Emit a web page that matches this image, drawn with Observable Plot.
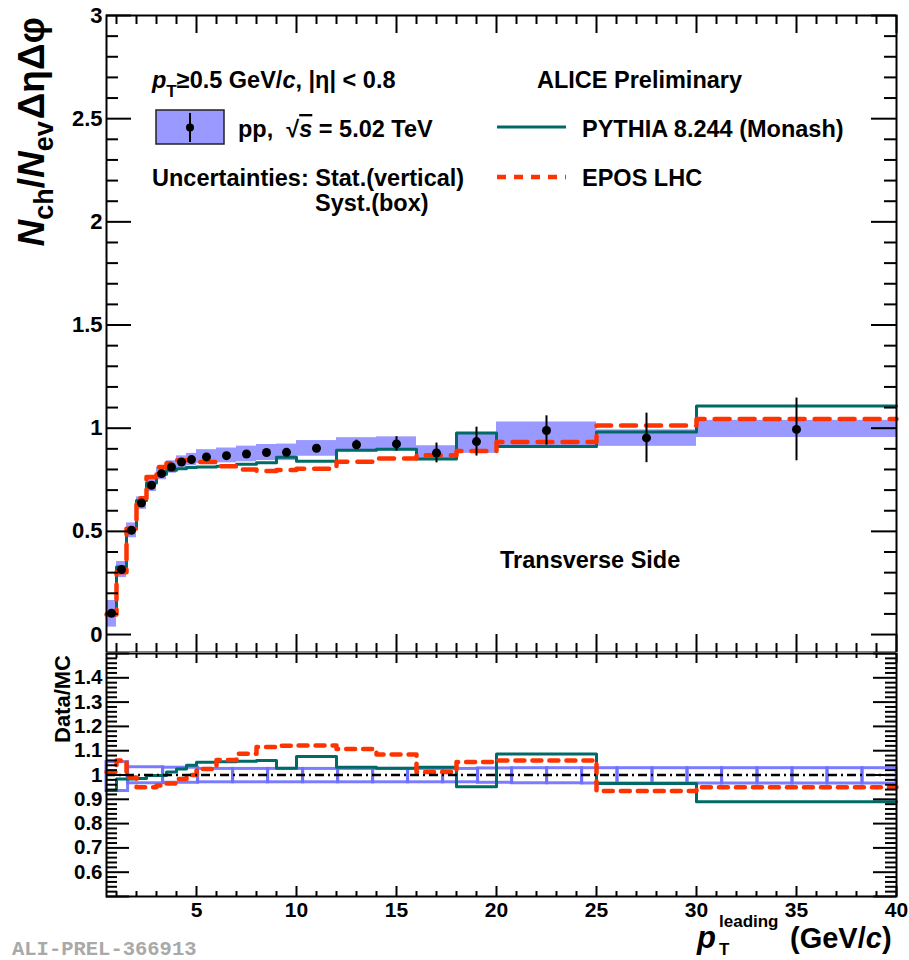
<!DOCTYPE html>
<html><head><meta charset="utf-8">
<script src="https://cdn.jsdelivr.net/npm/d3@7"></script>
<script src="https://cdn.jsdelivr.net/npm/@observablehq/plot@0.6"></script>
<style>
html,body{margin:0;padding:0;background:#fff;overflow:hidden;}
#wrap{position:relative;width:909px;height:960px;overflow:hidden;background:#fff;}
#wrap svg{position:absolute;left:0;}
</style></head><body><div id="wrap"></div>
<script>
// ---------------- data ----------------
const binLo = [0.5,1,1.5,2,2.5,3,3.5,4,4.5,5,6,7,8,9,10,12,14,16,18,20,25,30];
const binHi = [1,1.5,2,2.5,3,3.5,4,4.5,5,6,7,8,9,10,12,14,16,18,20,25,30,40];
const dataY   = [0.103,0.315,0.505,0.637,0.723,0.780,0.812,0.836,0.848,0.861,0.867,0.875,0.882,0.883,0.903,0.920,0.924,0.880,0.935,0.989,0.953,0.994];
const statErr = [0.004,0.004,0.004,0.004,0.004,0.004,0.004,0.004,0.004,0.005,0.005,0.006,0.007,0.008,0.012,0.022,0.035,0.048,0.070,0.071,0.120,0.152];
const systLo  = [0.036,0.276,0.469,0.607,0.693,0.750,0.782,0.806,0.818,0.828,0.832,0.837,0.843,0.843,0.864,0.886,0.890,0.845,0.878,0.910,0.912,0.955];
const systHi  = [0.165,0.354,0.541,0.667,0.753,0.810,0.842,0.866,0.878,0.896,0.904,0.913,0.921,0.923,0.940,0.954,0.958,0.915,0.975,1.030,0.992,1.038];
const pythiaY = [0.103,0.327,0.513,0.650,0.734,0.777,0.796,0.804,0.809,0.812,0.815,0.825,0.832,0.859,0.840,0.893,0.898,0.851,0.977,0.911,0.981,1.108];
const eposY   = [0.097,0.302,0.513,0.660,0.764,0.812,0.830,0.845,0.845,0.836,0.815,0.800,0.793,0.797,0.804,0.837,0.853,0.869,0.890,0.933,1.013,1.044];
const ratioPythia = [0.936,0.984,0.984,0.986,0.998,0.998,1.012,1.025,1.040,1.052,1.055,1.057,1.060,1.028,1.076,1.032,1.028,1.032,0.952,1.086,0.965,0.890];
const ratioEpos   = [1.012,1.060,0.990,0.950,0.950,0.957,0.965,0.984,1.000,1.025,1.062,1.087,1.115,1.120,1.121,1.107,1.084,1.012,1.053,1.060,0.934,0.950];
const ratioBoxEdges = [0.5,1.58,3.33,5.08,6.83,8.58,10.33,12.08,13.83,15.58,17.33,19.08,20.78,22.53,24.28,26.05,27.8,29.55,31.28,33.05,34.8,36.55,38.3,40];
const ratioBoxLo = [0.934,0.966,0.968,0.970,0.970,0.970,0.970,0.970,0.970,0.970,0.970,0.968,0.966,0.966,0.965,0.965,0.965,0.965,0.965,0.965,0.965,0.965,0.965];
const ratioBoxHi = [1.053,1.032,1.030,1.025,1.025,1.025,1.025,1.025,1.025,1.025,1.025,1.027,1.028,1.028,1.028,1.028,1.028,1.028,1.028,1.028,1.028,1.028,1.028];
const xTicks = [5,10,15,20,25,30,35,40];
const xLabels = ["5","10","15","20","25","30","35","40"];
const topYTicks = [0,0.5,1,1.5,2,2.5,3];
const topYLabels = ["0","0.5","1","1.5","2","2.5","3"];
const ratioYTicks = [0.6,0.7,0.8,0.9,1,1.1,1.2,1.3,1.4];
const ratioYLabels = ["0.6","0.7","0.8","0.9","1","1.1","1.2","1.3","1.4"];

// ---------------- styling ----------------
const FONT = "'Liberation Sans', Arial, Helvetica, sans-serif";
const TEAL = "#006b66", RED = "#ff3300", BOXFILL = "#9999ff", BOXLINE = "#6e6eff";
const W = 909;
const X_DOMAIN = [0.5, 40];
const TOP = {h: 653, mt: 15, mb: 1, ml: 106, mr: 13, yd: [-0.087, 3]};
const RAT = {top: 652, h: 308, mt: 1, mb: 64, ml: 106, mr: 13, yd: [0.5, 1.5]};

const bins = binLo.map((lo, i) => ({lo, hi: binHi[i], c: (lo + binHi[i]) / 2,
  y: dataY[i], e: statErr[i], sl: systLo[i], sh: systHi[i]}));
const steps = vals => binLo.flatMap((lo, i) => [{x: lo, y: vals[i]}, {x: binHi[i], y: vals[i]}]);
const ratioBoxes = ratioBoxLo.map((lo, i) => ({x1: ratioBoxEdges[i], x2: ratioBoxEdges[i + 1], y1: lo, y2: ratioBoxHi[i]}));

function range(a, b, s) { const r = []; for (let k = 0; a + k * s <= b + 1e-9; k++) r.push(+(a + k * s).toFixed(4)); return r; }
function isMult(v, m) { return Math.abs(v / m - Math.round(v / m)) < 1e-6; }

// inward ROOT-style ticks, lengths given in pixels
function frameTicks(cfg, yMaj, yMin, lx, ly) {
  const pxX = (W - cfg.ml - cfg.mr) / (X_DOMAIN[1] - X_DOMAIN[0]);
  const pxY = (cfg.h - cfg.mt - cfg.mb) / (cfg.yd[1] - cfg.yd[0]);
  const [x0, x1] = X_DOMAIN, [y0, y1] = cfg.yd;
  const xt = range(1, 40, 1).map(v => ({v, l: isMult(v, 5) ? lx[0] : lx[1]}));
  const yt = [...yMaj.map(v => ({v, l: ly[0]})), ...yMin.map(v => ({v, l: ly[1]}))];
  const st = {stroke: "black", strokeWidth: 2};
  return [
    Plot.ruleX(xt, {x: "v", y1: y0, y2: d => y0 + d.l / pxY, ...st}),
    Plot.ruleX(xt, {x: "v", y1: y1, y2: d => y1 - d.l / pxY, ...st}),
    Plot.ruleY(yt, {y: "v", x1: x0, x2: d => x0 + d.l / pxX, ...st}),
    Plot.ruleY(yt, {y: "v", x1: x1, x2: d => x1 - d.l / pxX, ...st})
  ];
}

// ---------------- top panel ----------------
const topMinor = range(-0.0, 3, 0.1).filter(v => !isMult(v, 0.5));
const topPlot = Plot.plot({
  width: W, height: TOP.h, marginTop: TOP.mt, marginBottom: TOP.mb, marginLeft: TOP.ml, marginRight: TOP.mr,
  style: {fontFamily: FONT, fontWeight: "bold", color: "black", background: "white", overflow: "visible"},
  x: {domain: X_DOMAIN, axis: null},
  y: {domain: TOP.yd},
  marks: [
    Plot.rect(bins, {x1: "lo", x2: "hi", y1: "sl", y2: "sh", fill: BOXFILL}),
    Plot.line(steps(pythiaY), {x: "x", y: "y", stroke: TEAL, strokeWidth: 3}),
    Plot.line(steps(eposY), {x: "x", y: "y", stroke: RED, strokeWidth: 4.5, strokeDasharray: "15,10"}),
    Plot.ruleX(bins, {x: "c", y1: d => d.y - d.e, y2: d => d.y + d.e, stroke: "black", strokeWidth: 2}),
    Plot.dot(bins, {x: "c", y: "y", r: 4.5, fill: "black"}),
    ...frameTicks(TOP, topYTicks, topMinor, [18, 9], [25, 12]),
    Plot.axisY(topYTicks, {tickSize: 0, tickPadding: 4, label: null, fontSize: 22, fontWeight: "bold",
      tickFormat: d => topYLabels[topYTicks.indexOf(d)]}),
    Plot.frame({stroke: "black", strokeWidth: 2})
  ]
});
topPlot.style.top = "0px";

// ---------------- ratio panel ----------------
const ratMinor = range(0.5, 1.5, 0.02).filter(v => !isMult(v, 0.1));
const ratMajor = range(0.5, 1.5, 0.1);
const ratPlot = Plot.plot({
  width: W, height: RAT.h, marginTop: RAT.mt, marginBottom: RAT.mb, marginLeft: RAT.ml, marginRight: RAT.mr,
  style: {fontFamily: FONT, fontWeight: "bold", color: "black", background: "white", overflow: "visible"},
  x: {domain: X_DOMAIN},
  y: {domain: RAT.yd},
  marks: [
    Plot.rect(ratioBoxes, {x1: "x1", x2: "x2", y1: "y1", y2: "y2", stroke: BOXLINE, strokeWidth: 3, strokeOpacity: 0.9, fill: "none", inset: 0}),
    Plot.line(steps(ratioPythia), {x: "x", y: "y", stroke: TEAL, strokeWidth: 3}),
    Plot.line(steps(ratioEpos), {x: "x", y: "y", stroke: RED, strokeWidth: 4.5, strokeDasharray: "9,8"}),
    Plot.ruleY([1], {stroke: "black", strokeWidth: 2.5, strokeDasharray: "9,4,2,4"}),
    ...frameTicks(RAT, ratMajor, ratMinor, [10, 5], [23, 11]),
    Plot.axisY(ratioYTicks, {tickSize: 0, tickPadding: 4, label: null, fontSize: 20.5, fontWeight: "bold",
      tickFormat: d => ratioYLabels[ratioYTicks.indexOf(d)]}),
    Plot.axisX(xTicks, {tickSize: 0, tickPadding: 6, label: null, fontSize: 21, fontWeight: "bold",
      tickFormat: d => xLabels[xTicks.indexOf(d)]}),
    Plot.frame({stroke: "black", strokeWidth: 2})
  ]
});
ratPlot.style.top = RAT.top + "px";

const wrap = document.getElementById("wrap");
wrap.appendChild(topPlot);
wrap.appendChild(ratPlot);

// ---------------- rich text helpers ----------------
function addText(svg, x, y, parts, o = {}) {
  const t = d3.select(svg).append("text").attr("x", x).attr("y", y)
    .attr("font-family", o.family || FONT).attr("font-weight", "bold")
    .attr("font-size", o.size || 23.5).attr("fill", o.fill || "black")
    .attr("text-anchor", o.anchor || "start");
  if (o.transform) t.attr("transform", o.transform);
  for (const p of parts) {
    const s = t.append("tspan").text(p.t);
    if (p.size) s.attr("font-size", p.size);
    if (p.italic) s.attr("font-style", "italic");
    if (p.dy) s.attr("dy", p.dy);
    if (p.dx) s.attr("dx", p.dx);
    if (p.deco) s.attr("text-decoration", p.deco);
  }
  return t;
}

// y title (top)
addText(topPlot, 0, 0, [
  {t: "N", italic: true},
  {t: "ch", size: 27, dy: 9},
  {t: "/", dy: -9},
  {t: "N", italic: true},
  {t: "ev", size: 27, dy: 9},
  {t: "ΔηΔφ", dy: -9, dx: 2}
], {size: 37, anchor: "end", transform: "translate(44,17) rotate(-90)"});

// legend / annotations
addText(topPlot, 152, 88, [
  {t: "p", italic: true},
  {t: "T", size: 17, dy: 9},
  {t: "≥0.5 GeV/", dy: -9},
  {t: "c", italic: true},
  {t: ", |η| < 0.8"}
]);
addText(topPlot, 537, 88, [{t: "ALICE Preliminary"}]);
addText(topPlot, 238, 137, [
  {t: "pp,  √"},
  {t: "s", italic: true, deco: "overline"},
  {t: " = 5.02 TeV"}
]);
addText(topPlot, 582, 137, [{t: "PYTHIA 8.244 (Monash)"}]);
addText(topPlot, 152, 186, [{t: "Uncertainties: Stat.(vertical)"}]);
addText(topPlot, 315, 211, [{t: "Syst.(box)"}]);
addText(topPlot, 582, 186, [{t: "EPOS LHC"}]);
addText(topPlot, 500, 568, [{t: "Transverse Side"}]);

const tsel = d3.select(topPlot);
tsel.append("rect").attr("x", 156).attr("y", 110).attr("width", 68).attr("height", 34)
  .attr("fill", BOXFILL).attr("stroke", "#222").attr("stroke-width", 1.5);
tsel.append("line").attr("x1", 190).attr("x2", 190).attr("y1", 113).attr("y2", 142).attr("stroke", "black").attr("stroke-width", 2);
tsel.append("circle").attr("cx", 190).attr("cy", 127.5).attr("r", 4).attr("fill", "black");
tsel.append("line").attr("x1", 497).attr("x2", 566).attr("y1", 127).attr("y2", 127).attr("stroke", TEAL).attr("stroke-width", 3);
tsel.append("line").attr("x1", 497).attr("x2", 566).attr("y1", 177).attr("y2", 177).attr("stroke", RED).attr("stroke-width", 4.5).attr("stroke-dasharray", "9,8");

// ratio panel titles
addText(ratPlot, 0, 0, [{t: "Data/MC"}], {size: 22, anchor: "middle", transform: "translate(70,47) rotate(-90)"});
addText(ratPlot, 697, 296, [{t: "p", italic: true}], {size: 31});
addText(ratPlot, 719, 275, [{t: "leading"}], {size: 17});
addText(ratPlot, 719, 303, [{t: "T"}], {size: 17});
addText(ratPlot, 790, 296, [{t: "(GeV/"}, {t: "c", italic: true}, {t: ")"}], {size: 29});
addText(ratPlot, 12, 303, [{t: "ALI-PREL-366913"}], {size: 20.5, family: "'Liberation Mono', 'DejaVu Sans Mono', monospace", fill: "#a9a9a9"});
</script></body></html>
